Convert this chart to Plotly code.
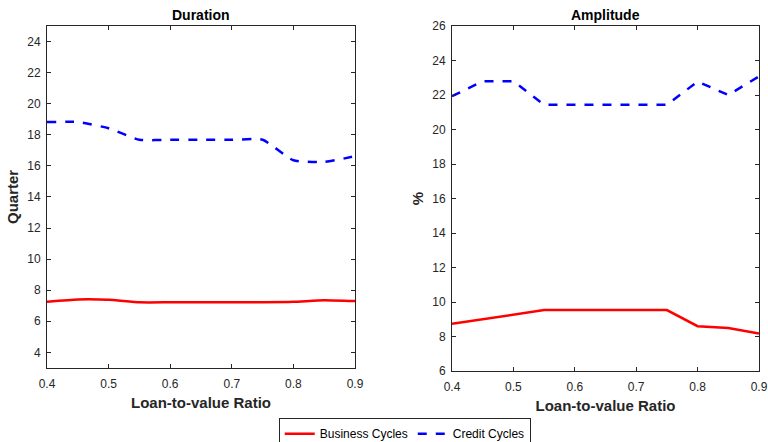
import plotly.graph_objects as go

ltv = [0.4, 0.45, 0.5, 0.55, 0.6, 0.65, 0.7, 0.75, 0.8, 0.85, 0.9]
dur_business = [7.25, 7.4, 7.38, 7.22, 7.22, 7.22, 7.22, 7.22, 7.25, 7.36, 7.3]
dur_credit = [18.82, 18.82, 18.42, 17.68, 17.68, 17.68, 17.68, 17.68, 16.36, 16.25, 16.62]
amp_business = [8.74, 9.0, 9.24, 9.53, 9.53, 9.53, 9.53, 9.53, 8.6, 8.49, 8.18]
amp_credit = [21.93, 22.8, 22.8, 21.43, 21.43, 21.43, 21.43, 21.43, 22.78, 22.0, 23.08]

x_ticks = [0.4, 0.5, 0.6, 0.7, 0.8, 0.9]
dur_ticks = [4, 6, 8, 10, 12, 14, 16, 18, 20, 22, 24]
amp_ticks = [6, 8, 10, 12, 14, 16, 18, 20, 22, 24, 26]

RED = "#ff0000"
BLUE = "#0000ff"
AX = "#262626"
FONT = "Liberation Sans, Arial, sans-serif"

fig = go.Figure()
fig.add_trace(go.Scatter(x=ltv, y=dur_business, mode="lines", name="Business Cycles",
                         line=dict(color=RED, width=2.5, shape="spline", smoothing=0.5),
                         xaxis="x", yaxis="y", legendrank=1))
fig.add_trace(go.Scatter(x=ltv, y=dur_credit, mode="lines", name="Credit Cycles",
                         line=dict(color=BLUE, width=2.5, dash="dash", shape="spline", smoothing=0.5),
                         xaxis="x", yaxis="y", legendrank=2))
fig.add_trace(go.Scatter(x=ltv, y=amp_business, mode="lines", name="Business Cycles",
                         line=dict(color=RED, width=2.5), showlegend=False,
                         xaxis="x2", yaxis="y2"))
fig.add_trace(go.Scatter(x=ltv, y=amp_credit, mode="lines", name="Credit Cycles",
                         line=dict(color=BLUE, width=2.5, dash="dash"), showlegend=False,
                         xaxis="x2", yaxis="y2"))

axis_common = dict(showgrid=False, zeroline=False, showline=True, linecolor=AX, linewidth=1,
                   mirror="ticks", ticks="inside", ticklen=4, tickcolor=AX, automargin=False,
                   tickfont=dict(family=FONT, size=12, color=AX))
x_extra = dict(ticklabelstandoff=5)
y_extra = dict(ticklabelstandoff=3)

fig.update_layout(
    width=768, height=442,
    margin=dict(l=47, r=9, t=26, b=71, autoexpand=False),
    paper_bgcolor="white", plot_bgcolor="white",
    font=dict(family=FONT, color=AX),
    xaxis=dict(domain=[0, 0.4326], range=[0.4, 0.9], tickvals=x_ticks,
               ticktext=[f"{v:.1f}" for v in x_ticks],
               title=dict(text="<b>Loan-to-value Ratio</b>", font=dict(size=15, color=AX), standoff=7),
               anchor="y", **axis_common, **x_extra),
    yaxis=dict(domain=[0.009, 1], range=[3, 25], tickvals=dur_ticks,
               title=dict(text="<b>Quarter</b>", font=dict(size=15, color=AX), standoff=4),
               anchor="x", **axis_common, **y_extra),
    xaxis2=dict(domain=[0.5688, 1], range=[0.4, 0.9], tickvals=x_ticks,
                ticktext=[f"{v:.1f}" for v in x_ticks],
                title=dict(text="<b>Loan-to-value Ratio</b>", font=dict(size=15, color=AX), standoff=7),
                anchor="y2", **axis_common, **x_extra),
    yaxis2=dict(domain=[0, 1], range=[6, 26], tickvals=amp_ticks,
                title=dict(text="<b>%</b>", font=dict(size=15, color=AX), standoff=4),
                anchor="x2", **axis_common, **y_extra),
    legend=dict(orientation="h", xref="container", yref="container",
                x=0.527, xanchor="center", y=0.054, yanchor="top",
                bordercolor=AX, borderwidth=1, bgcolor="white",
                font=dict(family=FONT, size=12, color="#000000"),
                itemwidth=30, tracegroupgap=0),
    showlegend=True,
    annotations=[
        dict(text="<b>Duration</b>", x=0.2163, y=1, xref="paper", yref="paper",
             xanchor="center", yanchor="bottom", yshift=1, showarrow=False,
             font=dict(size=14, color="#000000", family=FONT)),
        dict(text="<b>Amplitude</b>", x=0.7844, y=1, xref="paper", yref="paper",
             xanchor="center", yanchor="bottom", yshift=1, showarrow=False,
             font=dict(size=14, color="#000000", family=FONT)),
    ],
)

fig.write_html("out.html")
